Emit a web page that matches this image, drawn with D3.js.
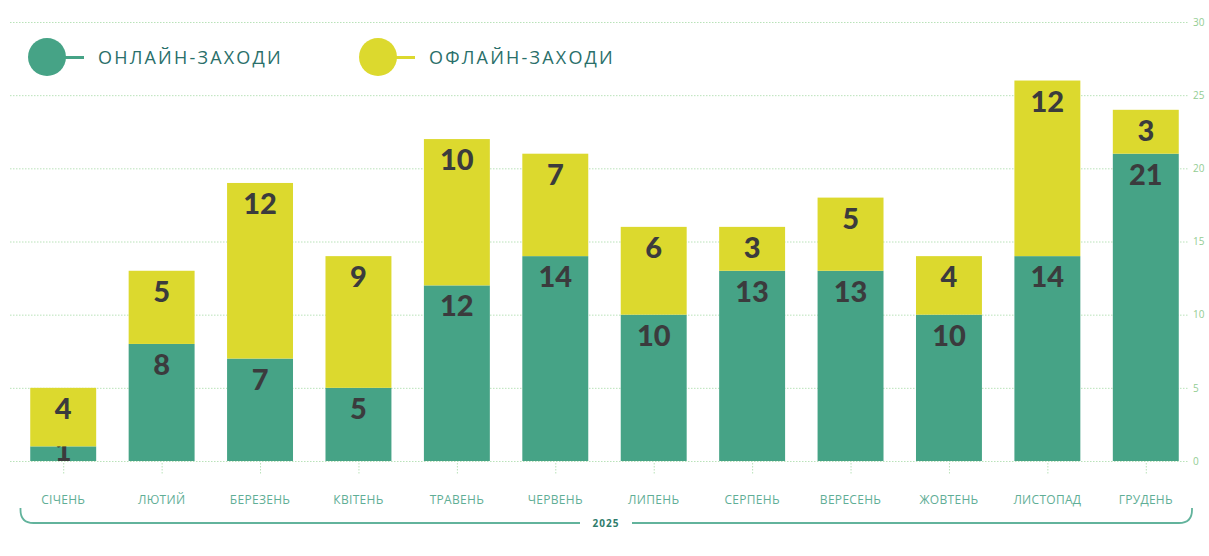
<!DOCTYPE html>
<html>
<head>
<meta charset="utf-8">
<script src="https://cdn.jsdelivr.net/npm/d3@7"></script>
<style>
  body { margin: 0; background: #fff; }
  svg { display: block; }
</style>
</head>
<body>
<svg></svg>
<script>
// ====== dimensions ====== //
const width = 1209;
const height = 556;

// ====== données ====== //
const months = ["СІЧЕНЬ", "ЛЮТИЙ", "БЕРЕЗЕНЬ", "КВІТЕНЬ", "ТРАВЕНЬ", "ЧЕРВЕНЬ",
  "ЛИПЕНЬ", "СЕРПЕНЬ", "ВЕРЕСЕНЬ", "ЖОВТЕНЬ", "ЛИСТОПАД", "ГРУДЕНЬ"];
const online = [1, 8, 7, 5, 12, 14, 10, 13, 13, 10, 14, 21];
const offline = [4, 5, 12, 9, 10, 7, 6, 3, 5, 4, 12, 3];
const seriesNames = ["ОНЛАЙН-ЗАХОДИ", "ОФЛАЙН-ЗАХОДИ"];
const yTicks = [0, 5, 10, 15, 20, 25, 30];
const yearLabel = "2025";

const colors = ["#46a386", "#dcd92e"];

const svg = d3.select("svg")
  .attr("width", width)
  .attr("height", height);

// scales
const x = d3.scaleBand()
  .domain(months)
  .range([14, 1195])
  .paddingInner(0.33)
  .paddingOuter(0.165);

const y = d3.scaleLinear()
  .domain([0, 30])
  .range([461, 22]);

// grille pointillée
svg.append("g")
  .selectAll("line")
  .data(yTicks)
  .join("line")
  .attr("x1", 10)
  .attr("x2", 1188)
  .attr("y1", d => y(d) + 0.5)
  .attr("y2", d => y(d) + 0.5)
  .attr("stroke", "#b9e2b9")
  .attr("stroke-width", 1)
  .attr("stroke-dasharray", "1.5,1.5");

// axe droit
const yAxis = svg.append("g")
  .attr("transform", "translate(1190,0)")
  .call(d3.axisRight(y).tickValues(yTicks).tickSize(0).tickPadding(3));
yAxis.select(".domain").remove();
yAxis.selectAll("text")
  .attr("fill", "#93cd93")
  .style("font-family", "'Open Sans', sans-serif")
  .style("font-size", "10px");

// données empilées
const rows = months.map((m, i) => ({ month: m, online: online[i], offline: offline[i] }));
const stack = d3.stack().keys(["online", "offline"])(rows);

const layers = svg.append("g")
  .selectAll("g")
  .data(stack)
  .join("g")
  .attr("fill", (d, i) => colors[i]);

layers.selectAll("rect")
  .data(d => d)
  .join("rect")
  .attr("x", d => x(d.data.month))
  .attr("width", x.bandwidth())
  .attr("y", d => y(d[1]))
  .attr("height", d => y(d[0]) - y(d[1]));

// étiquettes de valeurs
layers.selectAll("text")
  .data(d => d)
  .join("text")
  .attr("x", d => x(d.data.month) + x.bandwidth() / 2)
  .attr("y", d => Math.min(y(d[1]) + 31, y(d[0])))
  .attr("text-anchor", "middle")
  .attr("fill", "#3b3b3d")
  .style("font-family", "Lato, sans-serif")
  .style("font-weight", 900)
  .style("font-size", "29px")
  .text(d => d[1] - d[0]);

// axe des mois
const xAxis = svg.append("g");
xAxis.selectAll("line")
  .data(months)
  .join("line")
  .attr("x1", d => x(d) + x.bandwidth() / 2 + 0.5)
  .attr("x2", d => x(d) + x.bandwidth() / 2 + 0.5)
  .attr("y1", 463)
  .attr("y2", 474)
  .attr("stroke", "#b9e2b9")
  .attr("stroke-dasharray", "1.5,1.5");

xAxis.selectAll("text")
  .data(months)
  .join("text")
  .attr("x", d => x(d) + x.bandwidth() / 2)
  .attr("y", 504)
  .attr("text-anchor", "middle")
  .attr("fill", "#5fae96")
  .style("font-family", "'Open Sans', sans-serif")
  .style("font-size", "12px")
  .style("letter-spacing", "0.3px")
  .text(d => d);

// accolade de l'année
const bx0 = 20.5, bx1 = 1192, by0 = 508, by1 = 523, r = 13;
svg.append("path")
  .attr("d", `M${bx0},${by0} L${bx0},${by1 - r} Q${bx0},${by1} ${bx0 + r},${by1}
    L${bx1 - r},${by1} Q${bx1},${by1} ${bx1},${by1 - r} L${bx1},${by0}`)
  .attr("fill", "none")
  .attr("stroke", "#62b39c")
  .attr("stroke-width", 1.8);

svg.append("rect")
  .attr("x", 580)
  .attr("y", 515)
  .attr("width", 52)
  .attr("height", 16)
  .attr("fill", "#fff");

svg.append("text")
  .attr("x", 606)
  .attr("y", 527)
  .attr("text-anchor", "middle")
  .attr("fill", "#2f7c6c")
  .style("font-family", "'Open Sans', sans-serif")
  .style("font-weight", 700)
  .style("font-size", "10px")
  .style("letter-spacing", "1px")
  .text(yearLabel);

// légende
const legendX = [47, 378];
const legend = svg.append("g")
  .selectAll("g")
  .data(seriesNames)
  .join("g")
  .attr("transform", (d, i) => `translate(${legendX[i]},57)`);

legend.append("line")
  .attr("x1", 0)
  .attr("x2", 37)
  .attr("y1", 0.5)
  .attr("y2", 0.5)
  .attr("stroke", (d, i) => colors[i])
  .attr("stroke-width", 3);

legend.append("circle")
  .attr("r", 19)
  .attr("fill", (d, i) => colors[i]);

legend.append("text")
  .attr("x", 51)
  .attr("y", 7)
  .attr("fill", "#2a6f6a")
  .style("font-family", "'Open Sans', sans-serif")
  .style("font-size", "18px")
  .style("letter-spacing", "2.2px")
  .text(d => d);
</script>
</body>
</html>
